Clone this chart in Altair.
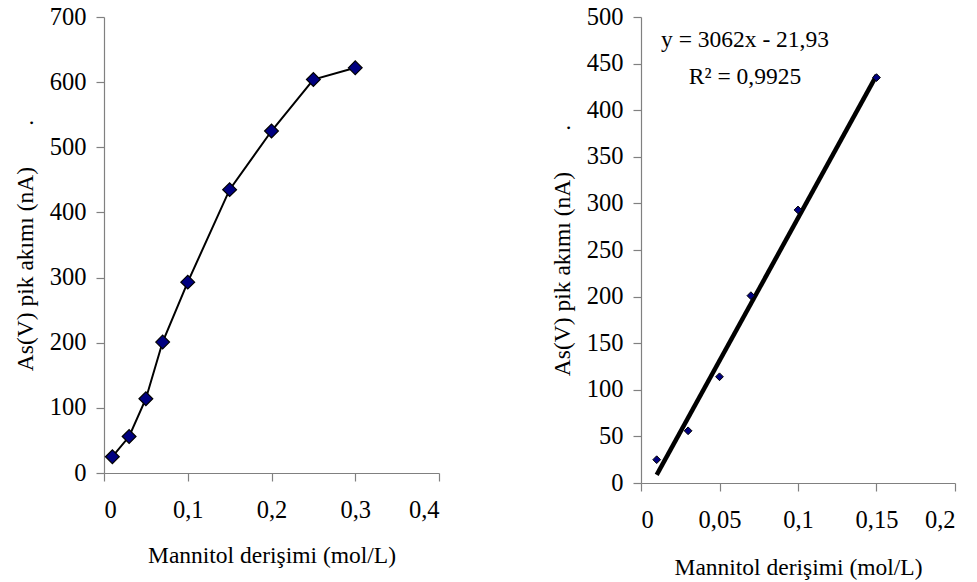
import altair as alt
import pandas as pd

# Mannitol concentration (mol/L) and As(V) peak current (nA)
conc = [0.01, 0.03, 0.05, 0.07, 0.1, 0.15, 0.2, 0.25, 0.3]
peak = [25, 56, 114, 201, 293, 435, 525, 604, 622]

# linear range used for the calibration fit
n_linear = 6
slope = 3062
intercept = -21.93
r_squared = "0,9925"

left_ticks_x = [0, 0.1, 0.2, 0.3, 0.4]
left_ticks_y = [0, 100, 200, 300, 400, 500, 600, 700]
right_ticks_x = [0, 0.05, 0.1, 0.15, 0.2]
right_ticks_y = [0, 50, 100, 150, 200, 250, 300, 350, 400, 450, 500]

FONT = "Liberation Serif"
NAVY = "#000080"
x_title = "Mannitol derişimi (mol/L)"
y_title = "As(V) pik akımı (nA)" + "\u00a0" * 7 + "."

all_df = pd.DataFrame({"c": conc, "i": peak})
lin_df = all_df.iloc[:n_linear]
fit_x = [conc[0], conc[n_linear - 1]]
fit_df = pd.DataFrame({"c": fit_x, "i": [slope * v + intercept for v in fit_x]})

comma = "replace(datum.label, '.', ',')"


def x_enc(domain, ticks, pad, tpad):
    return alt.X("c:Q", title=x_title,
                 scale=alt.Scale(domain=domain, nice=False, zero=False),
                 axis=alt.Axis(values=ticks, format="~r", labelExpr=comma,
                               labelPadding=pad, titlePadding=tpad))


def y_enc(domain, ticks):
    return alt.Y("i:Q", title=y_title,
                 scale=alt.Scale(domain=domain, nice=False),
                 axis=alt.Axis(values=ticks, format="~r"))


# left panel: full concentration range with connecting line
left_line = alt.Chart(all_df).mark_line(color="black", strokeWidth=2).encode(
    x=x_enc([0, 0.4], left_ticks_x, 17, 22), y=y_enc([0, 700], left_ticks_y))
left_pts = alt.Chart(all_df).mark_point(
    shape="diamond", filled=True, size=190, fill=NAVY, stroke="black",
    strokeWidth=1.2, opacity=1).encode(x="c:Q", y="i:Q")
left = (left_line + left_pts).properties(width=335, height=456)

# right panel: linear range, fitted line and equation
right_fit = alt.Chart(fit_df).mark_line(color="black", strokeWidth=4.5).encode(
    x=x_enc([0, 0.2], right_ticks_x, 17, 24), y=y_enc([0, 500], right_ticks_y))
right_pts = alt.Chart(lin_df).mark_point(
    shape="diamond", filled=True, size=60, fill=NAVY, stroke="black",
    strokeWidth=1, opacity=1).encode(x="c:Q", y="i:Q")

eq_line = f"y = {slope}x - {str(abs(intercept)).replace('.', ',')}"
r2_line = f"R² = {r_squared}"
eq_df = pd.DataFrame({"t": [eq_line, r2_line]})


def eq_label(text, ypix):
    return alt.Chart(eq_df).transform_filter(alt.datum.t == text).mark_text(
        font=FONT, fontSize=23.5, color="black", align="center", baseline="middle"
    ).encode(x=alt.value(104), y=alt.value(ypix), text="t:N")


right = alt.layer(right_fit, right_pts, eq_label(eq_line, 23),
                  eq_label(r2_line, 60)).properties(width=314, height=466)

chart = alt.hconcat(left, right, spacing=110).configure_view(stroke=None).configure_axis(
    grid=False, domainColor="#808080", tickColor="#808080", domainWidth=1.2,
    tickWidth=1.2, tickSize=8, labelFont=FONT, labelFontSize=24.5, labelColor="black",
    titleFont=FONT, titleFontSize=23.5, titleFontWeight="normal", titleColor="black",
).configure_axisY(labelPadding=10, titlePadding=12).properties(
    padding={"left": 13, "top": 4, "right": 2, "bottom": 2})

chart.save("out.html", embed_options={"renderer": "svg", "actions": False})
